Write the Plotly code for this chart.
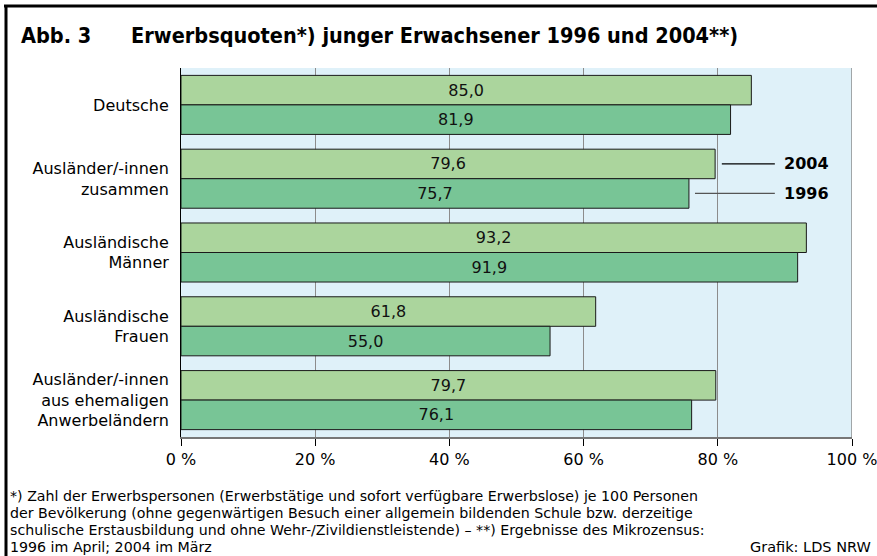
import plotly.graph_objects as go

categories = ["Deutsche", "Ausländer/-innen<br>zusammen", "Ausländische<br>Männer",
              "Ausländische<br>Frauen", "Ausländer/-innen<br>aus ehemaligen<br>Anwerbeländern"]
values_2004 = [85.0, 79.6, 93.2, 61.8, 79.7]
values_1996 = [81.9, 75.7, 91.9, 55.0, 76.1]
tick_vals = [0, 20, 40, 60, 80, 100]
tick_text = ["0 %", "20 %", "40 %", "60 %", "80 %", "100 %"]
footnote_lines = [
    "*) Zahl der Erwerbspersonen (Erwerbstätige und sofort verfügbare Erwerbslose) je 100 Personen",
    "der Bevölkerung (ohne gegenwärtigen Besuch einer allgemein bildenden Schule bzw. derzeitige",
    "schulische Erstausbildung und ohne Wehr-/Zivildienstleistende) – **) Ergebnisse des Mikrozensus:",
    "1996 im April; 2004 im März",
]

FONT = "DejaVu Sans"
COND = "DejaVu Sans Condensed"

def fmt(v):
    return f"{v:.1f}".replace(".", ",")

fig = go.Figure()
fig.add_trace(go.Bar(
    y=categories, x=values_2004, orientation="h", name="2004",
    marker=dict(color="#abd59d", line=dict(color="#1a1a1a", width=1)),
    text=[fmt(v) for v in values_2004], textposition="inside",
    insidetextanchor="middle", textfont=dict(family=FONT, size=16, color="#111"),
))
fig.add_trace(go.Bar(
    y=categories, x=values_1996, orientation="h", name="1996",
    marker=dict(color="#78c596", line=dict(color="#1a1a1a", width=1)),
    text=[fmt(v) for v in values_1996], textposition="inside",
    insidetextanchor="middle", textfont=dict(family=FONT, size=16, color="#111"),
))

W, H = 877, 556
ml, mr, mt, mb = 181, 25, 68, 119
pw, ph = W - ml - mr, H - mt - mb

def px2paper_x(px):
    return (px - ml) / pw

def px2paper_y(py):
    return (H - mb - py) / ph

shapes = [
    dict(type="line", xref="paper", yref="paper",
         x0=px2paper_x(4), x1=px2paper_x(880), y0=px2paper_y(6), y1=px2paper_y(6),
         line=dict(color="#000", width=3)),
    dict(type="line", xref="paper", yref="paper",
         x0=px2paper_x(6), x1=px2paper_x(6), y0=px2paper_y(5), y1=px2paper_y(560),
         line=dict(color="#000", width=3)),
]

off = (1 - 0.2) / 4
shapes.append(dict(type="line", xref="x", yref="y",
                   x0=values_2004[1] + 1.0, x1=88.5, y0=1 - off, y1=1 - off,
                   line=dict(color="#000", width=1.2)))
shapes.append(dict(type="line", xref="x", yref="y",
                   x0=values_1996[1] + 0.9, x1=88.5, y0=1 + off, y1=1 + off,
                   line=dict(color="#555", width=1.2)))
shapes.append(dict(type="line", xref="x", yref="paper", x0=100, x1=100, y0=0, y1=1,
                   line=dict(color="#8c8c8c", width=1.5)))

annotations = [
    dict(x=89.6, y=1 - off, xref="x", yref="y", text="<b>2004</b>", showarrow=False,
         xanchor="left", font=dict(family=FONT, size=16, color="#000")),
    dict(x=89.6, y=1 + off, xref="x", yref="y", text="<b>1996</b>", showarrow=False,
         xanchor="left", font=dict(family=FONT, size=16, color="#000")),
    dict(x=px2paper_x(19), y=px2paper_y(35), xref="paper", yref="paper",
         text="<b>Abb. 3</b>", showarrow=False, xanchor="left", yanchor="middle",
         font=dict(family=COND, size=21.5, color="#000")),
    dict(x=px2paper_x(129), y=px2paper_y(35), xref="paper", yref="paper",
         text="<b>Erwerbsquoten*) junger Erwachsener 1996 und 2004**)</b>", showarrow=False,
         xanchor="left", yanchor="middle",
         font=dict(family=COND, size=21.5, color="#000")),
    dict(x=px2paper_x(873), y=px2paper_y(547), xref="paper", yref="paper",
         text="Grafik: LDS NRW", showarrow=False, xanchor="right", yanchor="middle",
         font=dict(family=FONT, size=14.5, color="#000")),
]
for i, line in enumerate(footnote_lines):
    annotations.append(dict(
        x=px2paper_x(8), y=px2paper_y(496 + i * 17), xref="paper", yref="paper",
        text=line, showarrow=False, xanchor="left", yanchor="middle", align="left",
        font=dict(family=FONT, size=14.2, color="#000")))

fig.update_layout(
    width=W, height=H,
    margin=dict(l=ml, r=mr, t=mt, b=mb, pad=0, autoexpand=False),
    paper_bgcolor="white", plot_bgcolor="#dff1f9",
    barmode="group", bargap=0.2, bargroupgap=0,
    showlegend=False,
    font=dict(family=FONT, size=16, color="#000"),
    shapes=shapes, annotations=annotations,
    uniformtext=dict(mode="show", minsize=10),
)
fig.update_xaxes(range=[0, 100], tickvals=tick_vals, ticktext=tick_text,
                 showgrid=True, gridcolor="#8c8c8c", gridwidth=1,
                 showline=True, linecolor="#777", linewidth=2,
                 ticks="outside", ticklen=7, tickcolor="#000", tickwidth=1,
                 tickfont=dict(family=FONT, size=16, color="#000"),
                 ticklabeloverflow="allow", automargin=False,
                 zeroline=False, mirror=False, fixedrange=True)
fig.update_yaxes(autorange="reversed", showline=True, linecolor="#000", linewidth=1,
                 ticks="", tickfont=dict(family=FONT, size=16, color="#000"),
                 ticklabelstandoff=8, automargin=False, fixedrange=True)

fig.write_html("out.html", config={"displayModeBar": False},
               post_script="document.body.style.margin='0';document.body.style.overflow='hidden';")
